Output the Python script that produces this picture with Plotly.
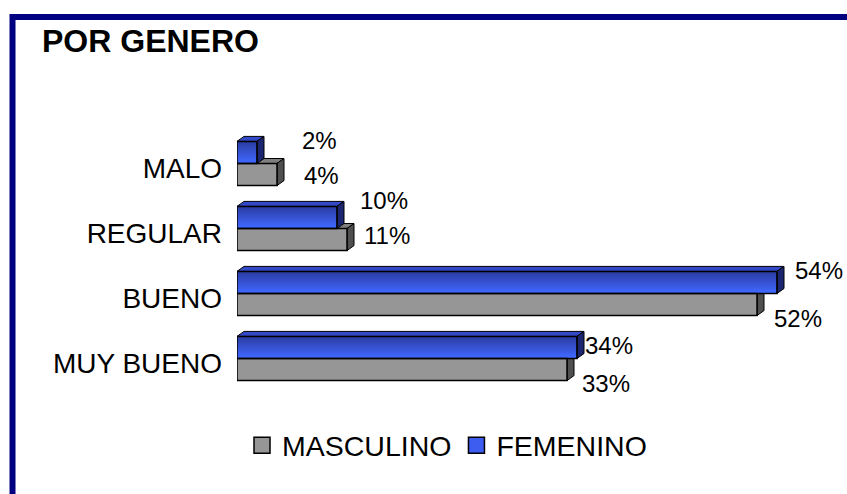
import plotly.graph_objects as go

# ---------------- data ----------------
CATEGORIES = ["MUY BUENO", "BUENO", "REGULAR", "MALO"]   # bottom -> top
MASCULINO = [33, 52, 11, 4]
FEMENINO = [34, 54, 10, 2]
SERIES_NAMES = ["MASCULINO", "FEMENINO"]
TITLE = "POR GENERO"

# ---------------- style ----------------
FONT = "Liberation Sans, Arial, sans-serif"
GRAY = "#969696"
GRAY_TOP = "#7f7f7f"
GRAY_SIDE = "#4f4f4f"
BLUE_TOP = (44, 62, 165)
BLUE_BOTTOM = (64, 104, 255)
BLUE_MID = "#3d5cf0"
BLUE_CAP = "#3349c8"
BLUE_SIDE = "#1b2570"
FRAME = "#000080"

W, H = 847, 494
M_L, M_R, M_T, M_B = 237, 0, 131, 103
X_MAX = 61
BARGAP = 0.32
ROW_PX = (H - M_T - M_B) / len(CATEGORIES)
BAR_PX = (1 - BARGAP) / 2 * ROW_PX
PX_PER_UNIT = (W - M_L - M_R) / X_MAX
DEPTH_PX_X, DEPTH_PX_Y = 7, 5
DX = DEPTH_PX_X / PX_PER_UNIT

# label nudges (px): (xshift, yshift)
NUDGE_M = [(13, -25), (15, -25), (15, -7), (25, -12)]
NUDGE_F = [(6, 13), (16, 23), (21, 28), (43, 23)]

fig = go.Figure()

fig.add_trace(go.Bar(
    y=CATEGORIES, x=MASCULINO, orientation="h", name=SERIES_NAMES[0],
    marker=dict(color=GRAY, line=dict(color="black", width=1.5)),
    showlegend=False, hoverinfo="skip"))
fig.add_trace(go.Bar(
    y=CATEGORIES, x=FEMENINO, orientation="h", name=SERIES_NAMES[1],
    marker=dict(color="rgba(0,0,0,0)", line=dict(color="black", width=1.5)),
    showlegend=False, hoverinfo="skip"))

# legend proxies
fig.add_trace(go.Scatter(x=[None], y=[None], mode="markers", name=SERIES_NAMES[0],
                         marker=dict(symbol="square", size=16, color=GRAY,
                                     line=dict(color="black", width=1.5))))
fig.add_trace(go.Scatter(x=[None], y=[None], mode="markers", name=SERIES_NAMES[1],
                         marker=dict(symbol="square", size=16, color=BLUE_MID,
                                     line=dict(color="black", width=1.5))))

shapes = []


def face(path, anchor, color):
    return dict(type="path", xref="x", yref="y", ysizemode="pixel", yanchor=anchor,
                path=path, fillcolor=color, line=dict(color="black", width=1),
                layer="below")


for i, v in enumerate(MASCULINO):
    yb, yt = -BAR_PX, 0
    shapes.append(face(f"M0,{yt} L{v},{yt} L{v+DX},{yt+DEPTH_PX_Y} L{DX},{yt+DEPTH_PX_Y} Z", i, GRAY_TOP))
    shapes.append(face(f"M{v},{yb} L{v},{yt} L{v+DX},{yt+DEPTH_PX_Y} L{v+DX},{yb+DEPTH_PX_Y} Z", i, GRAY_SIDE))

N_STRIPS = 11
for i, v in enumerate(FEMENINO):
    yb, yt = 0, BAR_PX
    step = (yt - yb) / N_STRIPS
    for k in range(N_STRIPS):
        t = k / (N_STRIPS - 1)
        c = tuple(round(BLUE_TOP[j] + (BLUE_BOTTOM[j] - BLUE_TOP[j]) * t) for j in range(3))
        shapes.append(dict(type="rect", xref="x", yref="y", ysizemode="pixel", yanchor=i,
                           x0=0, x1=v, y0=yt - k * step, y1=yt - (k + 1) * step - 0.6,
                           fillcolor=f"rgb{c}", line=dict(width=0), layer="below"))
    shapes.append(face(f"M0,{yt} L{v},{yt} L{v+DX},{yt+DEPTH_PX_Y} L{DX},{yt+DEPTH_PX_Y} Z", i, BLUE_CAP))
    shapes.append(face(f"M{v},{yb} L{v},{yt} L{v+DX},{yt+DEPTH_PX_Y} L{v+DX},{yb+DEPTH_PX_Y} Z", i, BLUE_SIDE))

# frame
shapes.append(dict(type="rect", xref="paper", yref="paper",
                   x0=(12.5 - M_L) / (W - M_L - M_R), x1=1.2,
                   y0=-0.8, y1=1 + (M_T - 17) / (H - M_T - M_B),
                   line=dict(color=FRAME, width=6), fillcolor="rgba(0,0,0,0)", layer="above"))

annotations = []
for i in range(len(CATEGORIES)):
    for vals, nud in ((MASCULINO, NUDGE_M), (FEMENINO, NUDGE_F)):
        annotations.append(dict(x=vals[i], y=i, xref="x", yref="y", text=f"{vals[i]}%",
                                showarrow=False, xanchor="left", yanchor="middle",
                                xshift=nud[i][0], yshift=nud[i][1],
                                font=dict(family=FONT, size=24, color="black")))

fig.update_layout(
    width=W, height=H,
    margin=dict(l=M_L, r=M_R, t=M_T, b=M_B),
    paper_bgcolor="white", plot_bgcolor="white",
    barmode="group", bargap=BARGAP, bargroupgap=0,
    title=dict(text=f"<b>{TITLE}</b>", x=42 / W, xref="container", xanchor="left",
               y=1 - 40.5 / H, yref="container", yanchor="middle",
               font=dict(family=FONT, size=32, color="black")),
    xaxis=dict(range=[0, X_MAX], showgrid=False, zeroline=False, showticklabels=False,
               showline=False, fixedrange=True),
    yaxis=dict(type="category", categoryorder="array", categoryarray=CATEGORIES,
               range=[-0.5, len(CATEGORIES) - 0.5], showgrid=False, zeroline=False,
               showline=False, ticks="", ticklabelstandoff=14, ticklabelshift=5,
               tickfont=dict(family=FONT, size=28, color="black")),
    legend=dict(orientation="h", x=5 / (W - M_L - M_R), xanchor="left", y=-0.21, yanchor="middle",
                font=dict(family=FONT, size=28.5, color="black"), bgcolor="rgba(0,0,0,0)"),
    shapes=shapes, annotations=annotations,
    font=dict(family=FONT),
)

fig.write_html("out.html", config={"displayModeBar": False},
               post_script="document.body.style.margin='0';")
